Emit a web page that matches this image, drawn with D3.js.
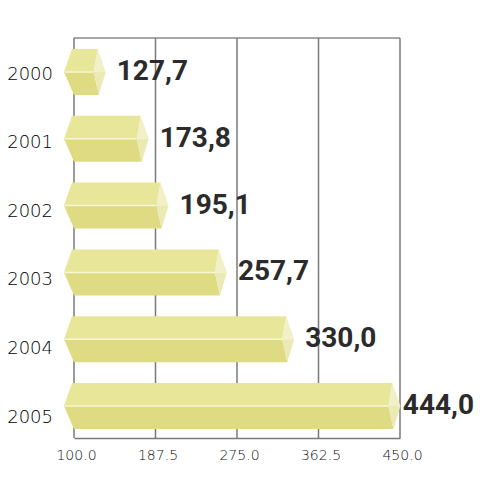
<!DOCTYPE html>
<html><head><meta charset="utf-8">
<script src="https://cdn.jsdelivr.net/npm/d3@7"></script>
<style>html,body{margin:0;padding:0;background:#fff;}svg{display:block;}</style>
</head><body>
<script>
const years = ["2000","2001","2002","2003","2004","2005"];
const values = [127.7, 173.8, 195.1, 257.7, 330.0, 444.0];
const valueLabels = ["127,7","173,8","195,1","257,7","330,0","444,0"];
const tickValues = [100, 187.5, 275, 362.5, 450];

(function(){
const W = 480, H = 480;
const svg = d3.select("body").append("svg").attr("width", W).attr("height", H);

const x = d3.scaleLinear().domain([100, 450]).range([74, 400]);
const yBar = d3.scalePoint().domain(years).range([72, 406]);
const yLab = d3.scalePoint().domain(years).range([73, 416]);
const plotTop = 38, plotBottom = 438;

svg.append("line").attr("x1", x(100)).attr("x2", x(450)).attr("y1", plotTop).attr("y2", plotTop)
  .attr("stroke", "#8a8a8a").attr("stroke-width", 1.5);
svg.selectAll("line.grid").data(tickValues).enter().append("line").attr("class","grid")
  .attr("x1", d => x(d)).attr("x2", d => x(d)).attr("y1", plotTop).attr("y2", plotBottom)
  .attr("stroke", "#7a7a7a").attr("stroke-width", 1.5);

const axis = d3.axisBottom(x).tickValues(tickValues).tickFormat(d3.format(".1f")).tickSize(0).tickPadding(12);
const ag = svg.append("g").attr("transform", `translate(0,${plotBottom})`).call(axis);
ag.select(".domain").attr("stroke", "#7a7a7a").attr("stroke-width", 1.5);
ag.selectAll("text").attr("font-family", "DejaVu Sans").attr("font-weight", 200).attr("font-size", 14).attr("fill", "#111").attr("dx", 2);

const bh = 46;
const g = svg.selectAll("g.bar").data(years).enter().append("g").attr("class","bar");
g.each(function(yr, i) {
  const s = d3.select(this);
  const c = yBar(yr);
  const t = c - bh/2, b = c + bh/2;
  const xl = x(100) - 10;
  const xv = x(values[i]);
  const fe = xv - 2, fm = xv - 6, fb = xv - 1, tip = xv + 6;
  s.append("path").attr("d", `M${xl+8},${t}L${fe},${t}L${fm},${c}L${xl},${c}Z`).attr("fill", "#e8e699");
  s.append("path").attr("d", `M${xl},${c}L${fm},${c}L${fb},${b}L${xl+10},${b}Z`).attr("fill", "#dedb83");
  s.append("path").attr("d", `M${fe},${t}L${tip},${c}L${fm},${c}Z`).attr("fill", "#f2f0c8");
  s.append("path").attr("d", `M${fm},${c}L${tip},${c}L${fb},${b}Z`).attr("fill", "#ebe9b4");
  s.append("line").attr("x1", xl+1).attr("x2", fm).attr("y1", c).attr("y2", c)
    .attr("stroke", "#f8f6d4").attr("stroke-width", 1.5);
  const txt = s.append("text").text(valueLabels[i])
    .attr("font-family", "Roboto").attr("font-weight", 700).attr("font-size", 28)
    .attr("fill", "#2b2b2b").attr("y", c - 2 + 10);
  const w = txt.node().getComputedTextLength();
  txt.attr("x", Math.min(xv + 17, 474 - w));
});

svg.selectAll("text.year").data(years).enter().append("text").attr("class","year")
  .attr("x", 53).attr("y", d => yLab(d) + 6.5).attr("text-anchor", "end")
  .attr("font-family", "DejaVu Sans").attr("font-weight", 200).attr("font-size", 18).attr("fill", "#000").text(d => d);
})();
</script>
</body></html>
